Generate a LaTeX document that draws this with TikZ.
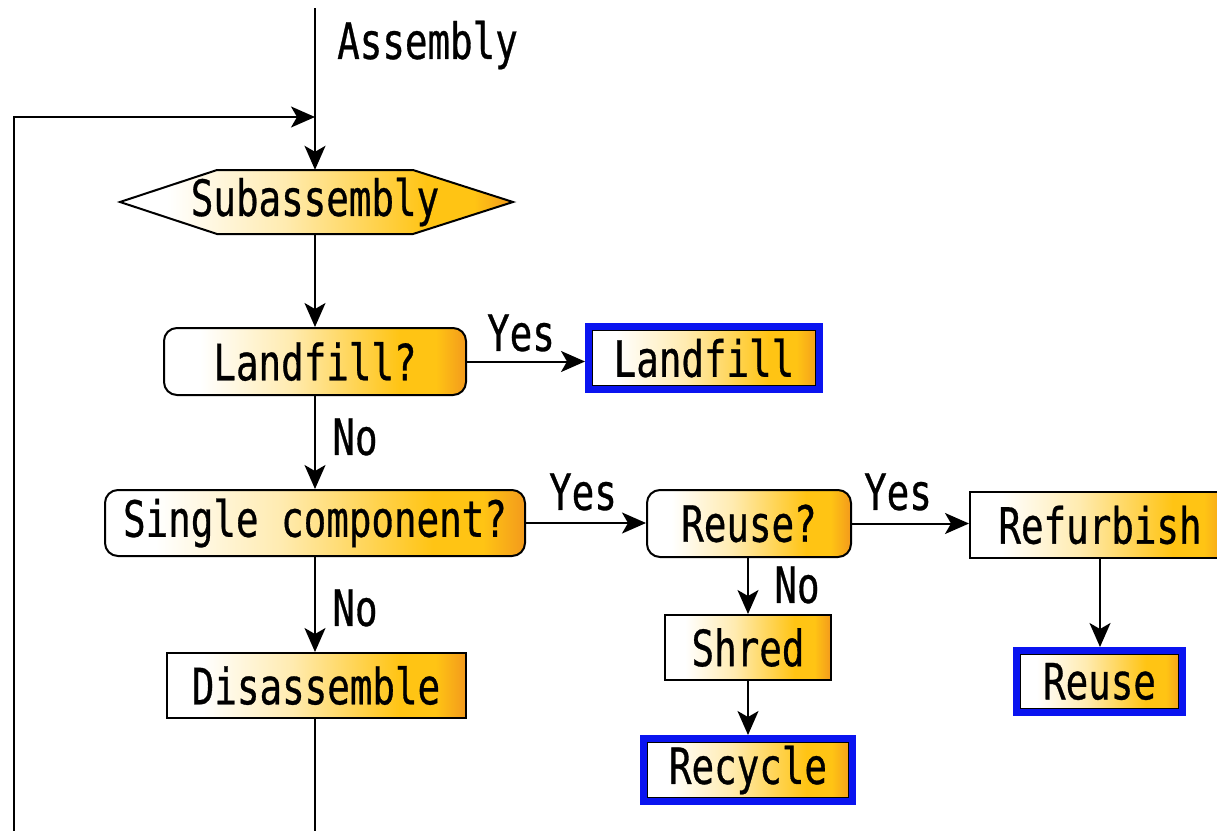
\documentclass[tikz,border=0pt]{standalone}
\usepackage{fontspec}
\setmainfont{DejaVu Sans Mono}[FakeStretch=0.75, FakeBold=0.6]
\usetikzlibrary{arrows.meta}

% white -> pale yellow -> gold -> orange, left to right
\definecolor{gpale}{HTML}{FFEBB0}
\definecolor{ggold}{HTML}{FFC414}
\definecolor{gorange}{HTML}{F39A1C}
\definecolor{tblue}{HTML}{0A14F0}
\pgfdeclarehorizontalshading{warmgrad}{100bp}{%
  color(0bp)=(white); color(31bp)=(white); color(46bp)=(gpale);
  color(64bp)=(ggold); color(70bp)=(ggold); color(75bp)=(gorange); color(100bp)=(gorange)}

\tikzset{
  x=1pt, y=-1pt,
  txt/.style={font=\fontsize{50pt}{52pt}\selectfont, inner sep=0pt},
  boxbase/.style={txt, shading=warmgrad, draw=black, line width=2pt},
  decision/.style={boxbase, rounded corners=13pt},
  process/.style={boxbase},
  terminal/.style={txt, shading=warmgrad, draw=tblue, line width=7pt,
    path picture={\draw[black, line width=1.4pt]
      ([shift={(4.2pt,-4.2pt)}]path picture bounding box.north west) rectangle
      ([shift={(-4.2pt,4.2pt)}]path picture bounding box.south east);}},
  flow/.style={line width=2pt, -{Stealth[length=24pt,width=21pt,inset=6pt]}},
  plain/.style={line width=2pt},
  lbl/.style={txt},
}

\begin{document}
\begin{tikzpicture}
\clip (0,0) rectangle (1217,830);

% hexagonal subassembly shape
\shade[shading=warmgrad, draw=black, line width=2pt]
  (120,202) -- (217,170) -- (413,170) -- (513,202) -- (413,234) -- (217,234) -- cycle;
\node[txt, minimum width=393, minimum height=64] (sub) at (315,202) {Subassembly};

\node[decision, minimum width=302, minimum height=67] (lq)  at (315,361.5) {Landfill?};
\node[terminal, minimum width=231, minimum height=63] (lf)  at (704,358) {Landfill};
\node[decision, minimum width=420, minimum height=66] (sc)  at (315,523) {Single component?};
\node[decision, minimum width=204, minimum height=67] (rq)  at (749,523.5) {Reuse?};
\node[process,  minimum width=260, minimum height=66] (rf)  at (1100,525) {Refurbish};
\node[terminal, minimum width=166, minimum height=62] (ru)  at (1099.5,681.5) {Reuse};
\node[process,  minimum width=166, minimum height=65] (sh)  at (748,647.5) {Shred};
\node[terminal, minimum width=209, minimum height=63] (rc)  at (748,770) {Recycle};
\node[process,  minimum width=299, minimum height=65] (dis) at (316,685.5) {Disassemble};

% entry and loop-back path
\coordinate (top)  at (315,8);
\coordinate (join) at (315,117);
\coordinate (lt)   at (14,117);
\coordinate (lb)   at (14,840);
\coordinate (bot)  at (315,840);

\node[lbl, anchor=west] (asm) at (337,45) {Assembly};

\draw[flow] (top) -- (sub.north);
\draw[flow] (lb) -- (lt) -- (join);
\draw[flow] (sub.south) -- (lq.north);
\draw[flow] (lq.east) -- (lq.east -| lf.west);
\draw[flow] (lq.south) -- (lq.south |- sc.north);
\draw[flow] (sc.east) -- (sc.east -| rq.west);
\draw[flow] (rq.east) -- (rq.east -| rf.west);
\draw[flow] (rf.south) -- (rf.south |- ru.north);
\draw[flow] (rq.south -| sh.north) -- (sh.north);
\draw[flow] (sh.south) -- (rc.north);
\draw[flow] (sc.south) -- (sc.south |- dis.north);
\draw[plain] (dis.south -| bot) -- (bot);

% branch labels
\node[lbl] (y1) at (521,333) {Yes};
\node[lbl] (n1) at (355,437) {No};
\node[lbl] (y2) at (583,492) {Yes};
\node[lbl] (y3) at (898,492) {Yes};
\node[lbl] (n2) at (797,585) {No};
\node[lbl] (n3) at (355,608) {No};
\end{tikzpicture}
\end{document}
